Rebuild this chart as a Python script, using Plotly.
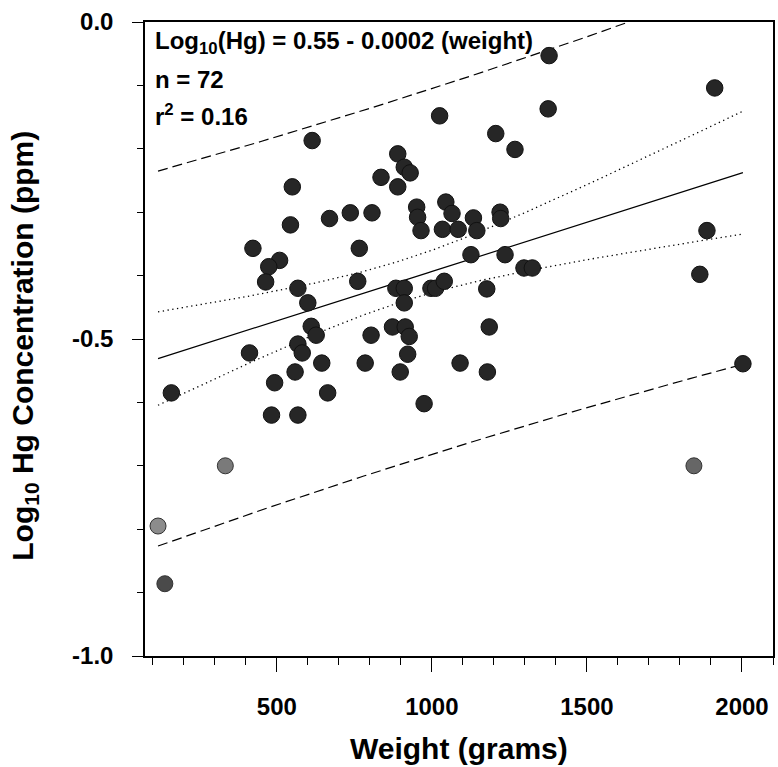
import numpy as np
import plotly.graph_objects as go

# ---- data ----
weight = [614, 890, 911, 930, 836, 890, 550, 951, 954, 965,
          1045, 1065, 1034, 1085, 670, 737, 807, 544, 423, 766,
          509, 474, 464, 761, 568, 600, 884, 911, 911, 997,
          1012, 1040, 611, 627, 873, 914, 927, 804, 412, 568,
          582, 922, 645, 785, 1091, 559, 898, 493, 160, 664,
          975, 483, 568, 1025, 1375, 1206, 1268, 1134, 1145, 1220,
          1222, 1126, 1236, 1297, 1324, 1887, 1864, 1177, 1185, 1179,
          2003, 1378, 1912]
log_hg = [-0.187, -0.208, -0.229, -0.238, -0.245, -0.260, -0.260, -0.292, -0.308, -0.329,
          -0.284, -0.302, -0.327, -0.327, -0.310, -0.301, -0.301, -0.320, -0.357, -0.357,
          -0.376, -0.386, -0.410, -0.409, -0.420, -0.443, -0.420, -0.420, -0.443, -0.420,
          -0.420, -0.409, -0.480, -0.494, -0.481, -0.481, -0.496, -0.494, -0.522, -0.508,
          -0.522, -0.524, -0.538, -0.538, -0.538, -0.552, -0.552, -0.569, -0.585, -0.585,
          -0.602, -0.620, -0.620, -0.148, -0.137, -0.176, -0.201, -0.309, -0.329, -0.300,
          -0.310, -0.367, -0.367, -0.388, -0.388, -0.329, -0.398, -0.421, -0.481, -0.552,
          -0.539, -0.053, -0.104]

gray_weight = [117, 139, 334, 1845]
gray_log_hg = [-0.795, -0.886, -0.700, -0.700]
gray_colors = ["#8c8c8c", "#4a4a4a", "#7a7a7a", "#666666"]

x_ticks = [500, 1000, 1500, 2000]
y_ticks = [0.0, -0.5, -1.0]
y_tick_text = ["0.0", "-0.5", "-1.0"]

eq_lines = ["Log<sub>10</sub>(Hg) = 0.55 - 0.0002 (weight)", "n = 72", "r<sup>2</sup> = 0.16"]

# ---- regression with confidence and prediction bands ----
xa = np.array(weight + gray_weight, dtype=float)
ya = np.array(log_hg + gray_log_hg, dtype=float)
n = len(xa)
b, a = np.polyfit(xa, ya, 1)
res = ya - (a + b * xa)
s = np.sqrt(np.sum(res ** 2) / (n - 2))
xbar = xa.mean()
sxx = np.sum((xa - xbar) ** 2)
t = 1.994
xl = np.linspace(xa.min(), xa.max(), 200)
yl = a + b * xl
ci = t * s * np.sqrt(1 / n + (xl - xbar) ** 2 / sxx)
pi = t * s * np.sqrt(1 + 1 / n + (xl - xbar) ** 2 / sxx)

FONT = "Liberation Sans, Arial, Helvetica, sans-serif"

fig = go.Figure()
line_k = dict(color="black", width=1.2)
fig.add_trace(go.Scatter(x=xl, y=yl + pi, mode="lines", line=dict(color="black", width=1.2, dash="10px,5px")))
fig.add_trace(go.Scatter(x=xl, y=yl - pi, mode="lines", line=dict(color="black", width=1.2, dash="10px,5px")))
fig.add_trace(go.Scatter(x=xl, y=yl + ci, mode="lines", line=dict(color="black", width=1.3, dash="1.3px,3.5px")))
fig.add_trace(go.Scatter(x=xl, y=yl - ci, mode="lines", line=dict(color="black", width=1.3, dash="1.3px,3.5px")))
fig.add_trace(go.Scatter(x=xl, y=yl, mode="lines", line=line_k))

fig.add_trace(go.Scatter(x=gray_weight, y=gray_log_hg, mode="markers",
                         marker=dict(size=16, color=gray_colors, line=dict(color="#333333", width=1)),
                         cliponaxis=False))
fig.add_trace(go.Scatter(x=weight, y=log_hg, mode="markers",
                         marker=dict(size=16.5, color="#262626", line=dict(color="#111111", width=1)),
                         cliponaxis=False))

fig.update_layout(
    width=778, height=767,
    margin=dict(l=145, r=3, t=22, b=111),
    paper_bgcolor="white", plot_bgcolor="white",
    showlegend=False,
    font=dict(family=FONT, color="black"),
)
fig.update_xaxes(
    range=[75, 2100], showgrid=False, zeroline=False,
    showline=True, linecolor="black", linewidth=1.5, mirror=True,
    ticks="outside", ticklen=14, tickwidth=1.2, tickcolor="black",
    tickvals=x_ticks, ticklabelstandoff=14,
    tickfont=dict(size=24, family=FONT, weight="bold"),
    minor=dict(dtick=100, tick0=0, ticks="outside", ticklen=7, tickwidth=1.2, tickcolor="black", showgrid=False),
)
fig.update_yaxes(
    range=[-1.0, 0.0], showgrid=False, zeroline=False,
    showline=True, linecolor="black", linewidth=1.5, mirror=True,
    ticks="outside", ticklen=11, tickwidth=1.2, tickcolor="black",
    tickvals=y_ticks, ticktext=y_tick_text, ticklabelstandoff=14,
    tickfont=dict(size=24, family=FONT, weight="bold"),
    minor=dict(dtick=0.1, tick0=0, ticks="outside", ticklen=6, tickwidth=1.2, tickcolor="black", showgrid=False),
)

# axis titles
fig.add_annotation(text="Weight (grams)", xref="paper", yref="paper", x=0.5, y=-0.146,
                   xanchor="center", yanchor="middle", showarrow=False,
                   font=dict(size=30, family=FONT, weight="bold"))
fig.add_annotation(text="Log<sub>10</sub> Hg Concentration (ppm)", xref="paper", yref="paper",
                   x=-0.192, y=0.49, xanchor="center", yanchor="middle", textangle=-90, showarrow=False,
                   font=dict(size=30, family=FONT, weight="bold"))

# equation block
for txt, yy in zip(eq_lines, [-0.032, -0.090, -0.147]):
    fig.add_annotation(text=txt, xref="paper", yref="y", x=0.012, y=yy,
                       xanchor="left", yanchor="middle", showarrow=False,
                       font=dict(size=24, family=FONT, weight="bold"))

fig.write_html("out.html")
